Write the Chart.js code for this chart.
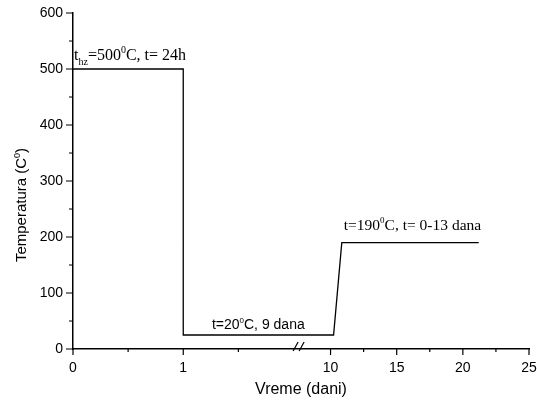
<!DOCTYPE html>
<html>
<head>
<meta charset="utf-8">
<script src="https://cdn.jsdelivr.net/npm/chart.js@4"></script>
<style>
  html, body { margin: 0; padding: 0; background: #fff; }
  #wrap { width: 537px; height: 405px; }
</style>
</head>
<body>
<div id="wrap"><canvas id="chart"></canvas></div>
<script>
// temperature regime (days, degC)
const timeDays = [0, 1, 1, 10.23, 10.85, 21.2];
const tempC = [500, 500, 25, 25, 190, 190];

// axis ticks
const xMajorTicks = [0, 1, 10, 15, 20, 25];
const xMinorTicks = [0.5, 1.5, 12.5, 17.5, 22.5];
const yMajorTicks = [0, 100, 200, 300, 400, 500, 600];
const yMinorTicks = [50, 150, 250, 350, 450, 550];

// broken x axis: 1 unit per day up to the break, compressed after it
const BREAK_AT = 2.06;
const RIGHT_ORIGIN = 2.336;   // axis position of day 10
const RIGHT_SCALE = 0.12;     // axis units per day after the break
function toAxis(d) {
  return d <= BREAK_AT ? d : RIGHT_ORIGIN + (d - 10) * RIGHT_SCALE;
}

const SANS = '"Liberation Sans", Arial, sans-serif';
const SERIF = '"Liberation Serif", "Times New Roman", serif';

// draws text made of parts, some raised or lowered
function richText(ctx, x, y, parts, size, family) {
  ctx.textBaseline = 'alphabetic';
  ctx.textAlign = 'left';
  let cx = x;
  parts.forEach(p => {
    const s = p.sup || p.sub ? Math.round(size * 0.6) : size;
    ctx.font = s + 'px ' + family;
    const dy = p.sup ? -size * 0.42 : p.sub ? size * 0.3 : 0;
    ctx.fillText(p.t, cx, y + dy);
    cx += ctx.measureText(p.t).width;
  });
  return cx - x;
}
function richWidth(ctx, parts, size, family) {
  let w = 0;
  parts.forEach(p => {
    const s = p.sup || p.sub ? Math.round(size * 0.6) : size;
    ctx.font = s + 'px ' + family;
    w += ctx.measureText(p.t).width;
  });
  return w;
}

const note1 = [{ t: 't' }, { t: 'hz', sub: true }, { t: '=500' }, { t: '0', sup: true }, { t: 'C, t= 24h' }];
const note2 = [{ t: 't=20' }, { t: '0', sup: true }, { t: 'C, 9 dana' }];
const note3 = [{ t: 't=190' }, { t: '0', sup: true }, { t: 'C, t= 0-13 dana' }];
const yTitle = [{ t: 'Temperatura (C' }, { t: '0', sup: true }, { t: ')' }];

const decorations = {
  id: 'decorations',
  afterDraw(chart) {
    const ctx = chart.ctx;
    const xs = chart.scales.x, ys = chart.scales.y;
    const axisY = ys.getPixelForValue(0);
    const axisX = xs.getPixelForValue(0);
    ctx.save();
    ctx.strokeStyle = '#000';
    ctx.fillStyle = '#000';
    ctx.lineWidth = 1.2;
    ctx.beginPath();
    xMajorTicks.forEach(d => { const p = xs.getPixelForValue(toAxis(d)); ctx.moveTo(p, axisY); ctx.lineTo(p, axisY + 6); });
    xMinorTicks.forEach(d => { const p = xs.getPixelForValue(toAxis(d)); ctx.moveTo(p, axisY); ctx.lineTo(p, axisY + 3); });
    yMajorTicks.forEach(v => { const p = ys.getPixelForValue(v); ctx.moveTo(axisX, p); ctx.lineTo(axisX - 7, p); });
    yMinorTicks.forEach(v => { const p = ys.getPixelForValue(v); ctx.moveTo(axisX, p); ctx.lineTo(axisX - 4, p); });
    ctx.stroke();

    // break marks on the x axis
    const bx = xs.getPixelForValue(BREAK_AT);
    ctx.beginPath();
    ctx.moveTo(bx - 7, axisY + 2); ctx.lineTo(bx - 2, axisY - 7);
    ctx.moveTo(bx - 1, axisY + 2); ctx.lineTo(bx + 4, axisY - 7);
    ctx.stroke();

    // notes
    richText(ctx, xs.getPixelForValue(toAxis(0)) + 1, ys.getPixelForValue(500) - 9, note1, 16, SERIF);
    richText(ctx, xs.getPixelForValue(toAxis(1.26)), ys.getPixelForValue(25) - 6, note2, 14, SANS);
    richText(ctx, xs.getPixelForValue(toAxis(10.85)) + 2, ys.getPixelForValue(190) - 13, note3, 15.5, SERIF);

    // y axis title
    ctx.translate(21, 205);
    ctx.rotate(-Math.PI / 2);
    const w = richWidth(ctx, yTitle, 15, SANS);
    richText(ctx, -w / 2, 5, yTitle, 15, SANS);
    ctx.restore();
  }
};

new Chart(document.getElementById('chart'), {
  type: 'scatter',
  data: {
    datasets: [{
      data: timeDays.map((d, i) => ({ x: toAxis(d), y: tempC[i] })),
      showLine: true,
      borderColor: '#000',
      borderWidth: 1.3,
      pointRadius: 0,
      tension: 0
    }]
  },
  options: {
    responsive: true,
    maintainAspectRatio: false,
    animation: false,
    layout: { padding: { left: 0, top: 13, right: 8, bottom: 0 } },
    plugins: { legend: { display: false }, tooltip: { enabled: false } },
    scales: {
      x: {
        type: 'linear',
        min: 0,
        max: toAxis(25),
        afterBuildTicks: s => { s.ticks = xMajorTicks.map(d => ({ value: toAxis(d) })); },
        afterFit: s => { s.height = 56; s.paddingLeft = 0; s.paddingRight = 0; },
        grid: { display: false, drawTicks: false },
        border: { display: true, color: '#000', width: 1.5 },
        ticks: {
          padding: 11,
          color: '#000',
          font: { family: SANS, size: 14 },
          maxRotation: 0,
          autoSkip: false,
          callback: (v, i) => String(xMajorTicks[i])
        },
        title: {
          display: true,
          text: 'Vreme (dani)',
          color: '#000',
          font: { family: SANS, size: 16 },
          padding: { top: 0, bottom: 6 }
        }
      },
      y: {
        min: 0,
        max: 600,
        afterBuildTicks: s => { s.ticks = yMajorTicks.map(v => ({ value: v })); },
        afterFit: s => { s.width = 73; s.paddingTop = 0; s.paddingBottom = 0; },
        grid: { display: false, drawTicks: false },
        border: { display: true, color: '#000', width: 1.5 },
        ticks: {
          padding: 10,
          color: '#000',
          font: { family: SANS, size: 14 }
        }
      }
    }
  },
  plugins: [decorations]
});
</script>
</body>
</html>
